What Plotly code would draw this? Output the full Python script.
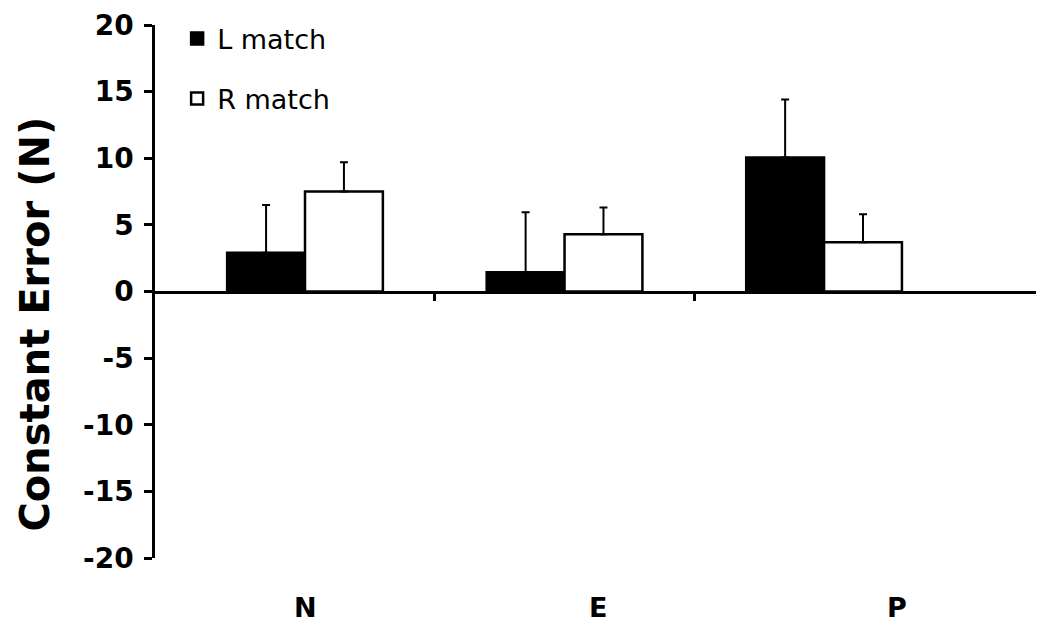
import plotly.graph_objects as go

categories = ["N", "E", "P"]
l_match = [2.9, 1.45, 10.05]
l_err = [3.6, 4.5, 4.35]
r_match = [7.5, 4.3, 3.7]
r_err = [2.2, 2.0, 2.1]
y_ticks = [-20, -15, -10, -5, 0, 5, 10, 15, 20]
y_ticktext = ["-20", "-15", "-10", "-5", "0", "5", "10", "15", "20"]

fig = go.Figure()
fig.add_trace(go.Bar(
    x=categories, y=l_match, name="L match", legendgroup="L",
    marker=dict(color="black", line=dict(color="black", width=2.5)),
    error_y=dict(type="data", array=l_err, symmetric=False, arrayminus=[0, 0, 0],
                 color="black", thickness=2, width=4),
))
fig.add_trace(go.Bar(
    x=categories, y=r_match, name="R match", legendgroup="R",
    marker=dict(color="white", line=dict(color="black", width=2.5)),
    error_y=dict(type="data", array=r_err, symmetric=False, arrayminus=[0, 0, 0],
                 color="black", thickness=2, width=4),
))

label_x = [0, 1.13, 2.28]
for cx, lab in zip(label_x, categories):
    fig.add_annotation(x=cx, y=0, xref="x", yref="paper", yanchor="middle", yshift=-49,
                       text=lab, showarrow=False,
                       font=dict(family="DejaVu Sans", size=27, color="black", weight="bold"))

fig.add_annotation(x=0, y=0.5, xref="paper", yref="paper", xanchor="center", yanchor="middle",
                   xshift=-121, yshift=-33, textangle=-90, showarrow=False,
                   text="Constant Error (N)",
                   font=dict(family="DejaVu Sans", size=40, color="black", weight="bold"))

fig.update_layout(
    width=1036, height=620,
    margin=dict(l=147, r=4, t=17, b=70, autoexpand=False),
    paper_bgcolor="white", plot_bgcolor="white",
    barmode="group", bargap=0.4, bargroupgap=0,
    showlegend=True,
    legend=dict(x=0.025, y=1.02, xanchor="left", yanchor="top",
                font=dict(family="DejaVu Sans", size=27, color="black"),
                tracegroupgap=22, bgcolor="rgba(0,0,0,0)", itemwidth=30),
    xaxis=dict(type="category", range=[-0.578, 2.832], anchor="free", position=0.5,
               showline=True, linecolor="black", linewidth=2.5,
               tickmode="array", tickvals=[0.5, 1.5], ticktext=["", ""],
               ticks="outside", ticklen=8, tickwidth=2.5, tickcolor="black",
               showticklabels=False, showgrid=False, zeroline=False),
    yaxis=dict(range=[-20, 20], tickmode="array", tickvals=y_ticks, ticktext=y_ticktext,
               showline=True, linecolor="black", linewidth=2.5,
               ticks="outside", ticklen=8, tickwidth=2.5, tickcolor="black",
               ticklabelstandoff=5, automargin=False,
               showgrid=False, zeroline=False,
               tickfont=dict(family="DejaVu Sans", size=28, color="black", weight="bold")),
)

fig.write_html("out.html")
